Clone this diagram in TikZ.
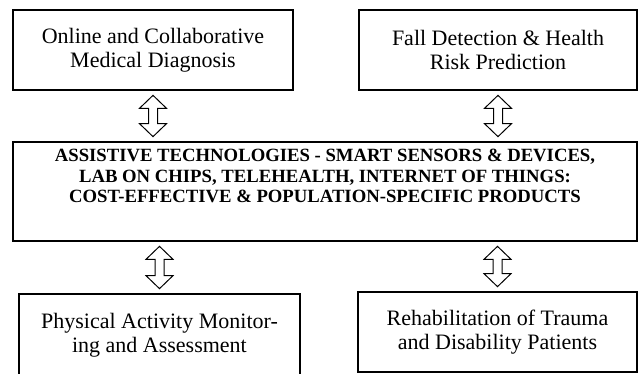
\documentclass[tikz,border=0pt]{standalone}
\usepackage{fontspec}
\setmainfont{Liberation Serif}
\usepackage{tikz}
\usetikzlibrary{calc}
\usetikzlibrary{positioning}

% hollow two-headed arrow between two points (upper, lower)
\newcommand{\twoway}[2]{%
  \draw[twoway arrow] let \p1=($(#1)+(0,-2.25pt)$), \p2=($(#2)+(0,2.25pt)$) in
    (\p1) -- (\x1-6.75pt,\y1-6.5pt) -- (\x1-2.25pt,\y1-6.5pt) -- (\x1-2.25pt,\y2+6.5pt)
    -- (\x1-6.75pt,\y2+6.5pt) -- (\p2) -- (\x1+6.75pt,\y2+6.5pt) -- (\x1+2.25pt,\y2+6.5pt)
    -- (\x1+2.25pt,\y1-6.5pt) -- (\x1+6.75pt,\y1-6.5pt) -- cycle;}

\begin{document}
\begin{tikzpicture}[x=1pt,y=1pt,
                    box node/.style={rectangle,draw,line width=0.85pt,align=center,
                      font=\fontsize{11}{12}\selectfont,inner sep=0pt},
                    core label/.style={align=center,font=\bfseries\fontsize{9.35}{10.3}\selectfont},
                    twoway arrow/.style={draw,line width=0.5pt,fill=white,line join=miter}]
 \useasboundingbox (0,0) rectangle (319,187);

 \node[box node,minimum width=140pt,minimum height=40pt] (DiagBox) at (76.5,162)
   {Online and Collaborative\\Medical Diagnosis};
 \node[box node,minimum width=139pt,minimum height=40pt] (FallBox) at (249,162)
   {Fall Detection \& Health\\Risk Prediction};

 \node[box node,minimum width=312pt,minimum height=49.5pt] (CoreBox) at (162.5,91.25) {};
 \node[core label] (CoreLabel) [shift={(0,7.75)}] at (CoreBox.center)
   {ASSISTIVE TECHNOLOGIES - SMART SENSORS \& DEVICES,\\
    LAB ON CHIPS, TELEHEALTH, INTERNET OF THINGS:\\
    COST-EFFECTIVE \& POPULATION-SPECIFIC PRODUCTS};

 \node[box node,minimum width=140.5pt,minimum height=41pt] (ActivityBox) at (79.75,19.5)
   {Physical Activity Monitor-\\ing and Assessment};
 \node[box node,minimum width=139.5pt,minimum height=40pt] (RehabBox) at (248.75,21)
   {Rehabilitation of Trauma\\and Disability Patients};

 \twoway{DiagBox.south}{DiagBox.south |- CoreBox.north}
 \twoway{FallBox.south}{FallBox.south |- CoreBox.north}
 \twoway{ActivityBox.north |- CoreBox.south}{ActivityBox.north}
 \twoway{RehabBox.north |- CoreBox.south}{RehabBox.north}

\end{tikzpicture}
\end{document}
